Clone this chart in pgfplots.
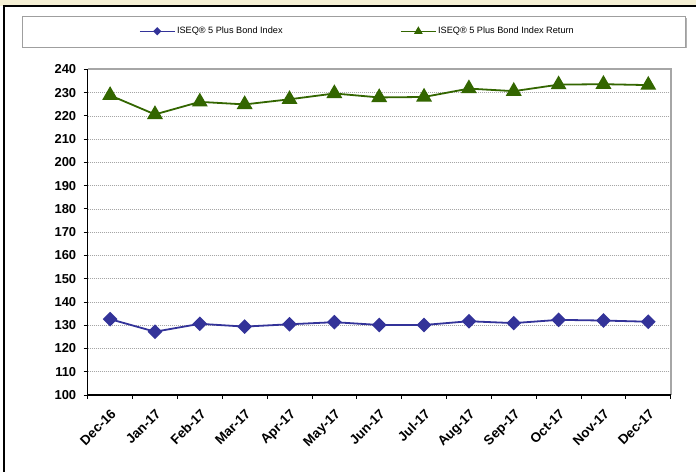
\documentclass[border=0pt]{standalone}
\usepackage{fontspec}
\setmainfont{Liberation Sans}
\usepackage{pgfplots}
\pgfplotsset{compat=1.18}
\definecolor{serA}{RGB}{51,51,153}
\definecolor{serB}{RGB}{51,102,0}
\definecolor{bandyel}{RGB}{245,240,212}
\pgfplotsset{
  legdia/.style={legend image code/.code={\draw[mark repeat=2,mark phase=2,##1,mark size=2.2bp,line width=1.5bp] plot coordinates {(0bp,0bp) (17.5bp,0bp) (35bp,0bp)};}},
  legtri/.style={legend image code/.code={\draw[mark repeat=2,mark phase=2,##1,mark size=3.5bp,line width=1.5bp] plot coordinates {(0bp,0bp) (17.5bp,0bp) (35bp,0bp)};}},
}
\pgfplotstableread{
x idx ret
0 132.6 228.8
1 127.2 220.6
2 130.6 226.0
3 129.4 224.9
4 130.4 227.1
5 131.3 229.6
6 130.1 227.9
7 130.1 228.1
8 131.7 231.7
9 130.9 230.6
10 132.3 233.4
11 132.0 233.6
12 131.5 233.2
}\datatable
\begin{document}
\begin{tikzpicture}[x=1bp,y=1bp]
\useasboundingbox (0,0) rectangle (696,472);
\fill[white] (0,0) rectangle (696,472);
\fill[bandyel] (0,466) rectangle (696,472);
\draw[black, line width=1.3bp] (4,0) -- (4,466) -- (696,466);
% legend frame with shadow
\fill[gray!60] (24,423.5) rectangle (687,454);
\filldraw[fill=white, draw=gray!75, line width=0.8bp] (22,425) rectangle (685,456);
\begin{axis}[
  at={(87.7bp,77bp)}, anchor=south west,
  scale only axis, width=583bp, height=325.7bp,
  xmin=-0.5, xmax=12.5, ymin=100, ymax=240,
  ytick={100,110,...,240},
  xtick={0,...,12},
  xticklabels={Dec-16,Jan-17,Feb-17,Mar-17,Apr-17,May-17,Jun-17,Jul-17,Aug-17,Sep-17,Oct-17,Nov-17,Dec-17},
  minor xtick={-0.5,0.5,...,12.5},
  xtick pos=bottom, ytick pos=left,
  tick align=outside,
  x tick style={draw=none},
  minor x tick style={draw=black, line width=0.8bp},
  minor tick length=4bp,
  y tick style={draw=black, line width=0.8bp},
  major tick length=4bp,
  axis line style={draw=none},
  ymajorgrids,
  grid style={gray!70, line width=0.6bp, dash pattern=on 1bp off 1bp},
  /pgf/number format/assume math mode=true,
  yticklabel style={font=\bfseries\fontsize{13}{15}\selectfont, xshift=-4bp},
  xticklabel style={font=\bfseries\fontsize{13.5}{15}\selectfont, rotate=45, anchor=north east, xshift=-3bp, yshift=-3bp},
  clip=false,
  legend columns=2,
  legend style={draw=none, fill=none, inner sep=0pt, outer sep=0pt,
    at={(0.088,1.1167)}, anchor=west,
    font=\fontsize{9.2}{11}\selectfont,
    nodes={inner xsep=1.5bp},
    /tikz/every even column/.append style={column sep=116bp}},
  legend cell align=left,
]
\addplot[serA, line width=1.8bp, mark=square*, mark size=4.3bp, mark options={solid, rotate=45, fill=serA}, legdia]
  table[x=x, y=idx] {\datatable};
\addplot[serB, line width=1.8bp, mark=triangle*, mark size=7.4bp, mark options={solid, fill=serB}, legtri]
  table[x=x, y=ret] {\datatable};
\legend{ISEQ® 5 Plus Bond Index, ISEQ® 5 Plus Bond Index Return}
\draw[gray!70, line width=2bp] (rel axis cs:0,1) -- (rel axis cs:1,1) -- (rel axis cs:1,0);
\draw[black, line width=1.3bp] (rel axis cs:0,1) -- (rel axis cs:0,0) -- (rel axis cs:1,0);
\end{axis}
\end{tikzpicture}
\end{document}
